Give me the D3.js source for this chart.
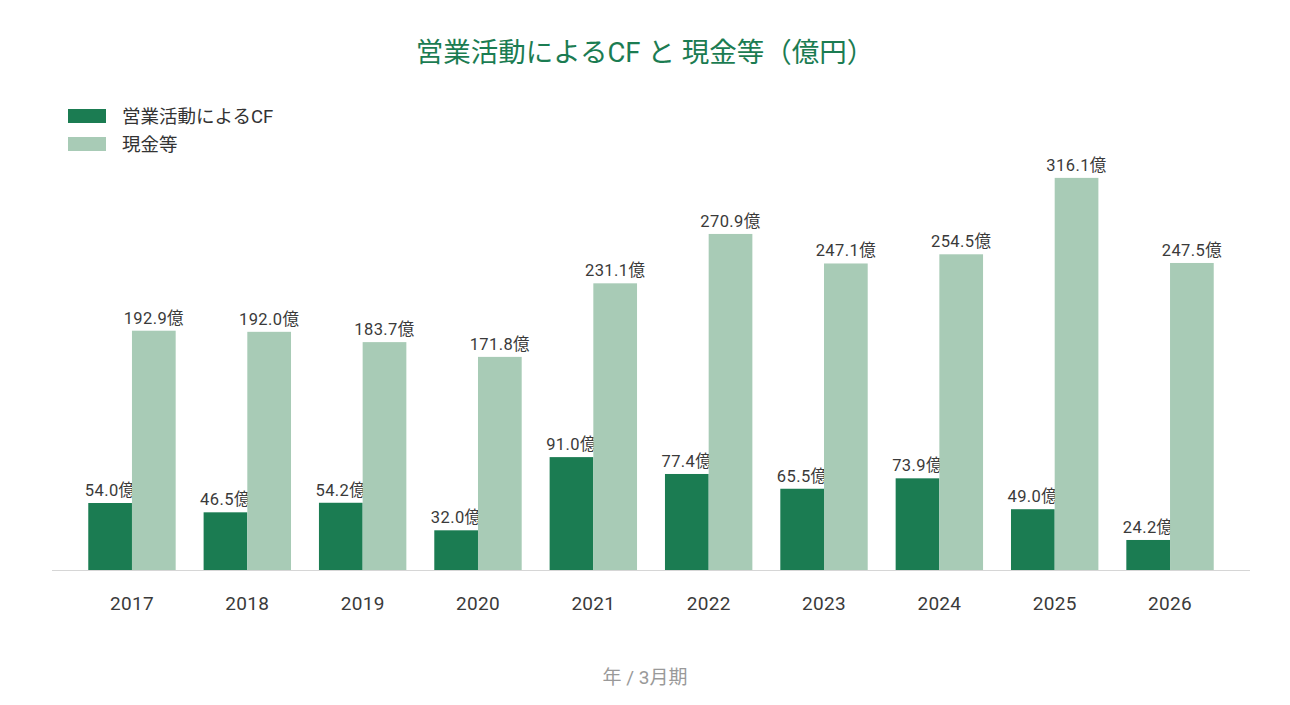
<!DOCTYPE html>
<html><head><meta charset="utf-8">
<script src="https://cdn.jsdelivr.net/npm/d3@7"></script>
<style>
html,body{margin:0;padding:0;background:#fff;}
svg{display:block;font-family:Roboto,"Noto Sans CJK JP",sans-serif;font-weight:400;}
</style></head>
<body><svg id="c" width="1290" height="705"></svg>
<script>
const categories = ["2017","2018","2019","2020","2021","2022","2023","2024","2025","2026"];
const seriesNames = ["営業活動によるCF","現金等"];
const cfValues = [54.0,46.5,54.2,32.0,91.0,77.4,65.5,73.9,49.0,24.2];
const cashValues = [192.9,192.0,183.7,171.8,231.1,270.9,247.1,254.5,316.1,247.5];
const colors = ["#1b7c52","#a8cbb6"];
const title = "営業活動によるCF と 現金等（億円）";
const xTitle = "年 / 3月期";

const svg = d3.select("#c");
const axisLeft = 52, axisRight = 1250, base = 570;

const x = d3.scaleBand().domain(categories).range([74.3, 1227.7]).padding(0);
const step = x.bandwidth();
const barW = 43.7;
const y = d3.scaleLinear().domain([0, 350]).range([base, base - 350*1.2405]);

svg.append("text").attr("x", 645).attr("y", 62).attr("text-anchor","middle")
  .attr("font-size", 27.5).attr("fill", "#1b7c52").text(title);

// legend
seriesNames.forEach((n,i)=>{
  const g = svg.append("g").attr("transform",`translate(68,${109+i*28})`);
  g.append("rect").attr("width",38).attr("height",14).attr("fill",colors[i]);
  g.append("text").attr("x",54).attr("y",14).attr("font-size",18.5).attr("fill","#333").text(n);
});

const series = [cfValues, cashValues];
series.forEach((vals,si)=>{
  const g = svg.append("g");
  categories.forEach((c,i)=>{
    const cx = x(c) + step/2;
    const x0 = si===0 ? cx - barW : cx;
    g.append("rect").attr("x", x0).attr("y", y(vals[i])).attr("width", barW)
      .attr("height", y(0)-y(vals[i])).attr("fill", colors[si]);
    g.append("text").attr("x", x0 + barW/2).attr("y", y(vals[i]) - 7)
      .attr("text-anchor","middle").attr("font-size",16.5).attr("fill","#3a3a3a")
      .attr("letter-spacing",0.4)
      .text(vals[i].toFixed(1) + "億");
  });
});

svg.append("line").attr("x1",axisLeft).attr("x2",axisRight).attr("y1",base+0.5).attr("y2",base+0.5)
  .attr("stroke","#d6d6d6").attr("stroke-width",1);

const xAxis = d3.axisBottom(x).tickSize(0).tickPadding(0);
const ga = svg.append("g").attr("transform",`translate(0,${base})`).call(xAxis);
ga.select(".domain").remove();
ga.selectAll("text").attr("font-size",19).attr("fill","#3a3a3a").attr("dy",null).attr("y",40)
  .attr("letter-spacing",0.3)
  .attr("font-family",'Roboto,"Noto Sans CJK JP",sans-serif').attr("font-weight",400);

svg.append("text").attr("x",645).attr("y",684).attr("text-anchor","middle")
  .attr("font-size",19).attr("fill","#999").text(xTitle);
</script></body></html>
